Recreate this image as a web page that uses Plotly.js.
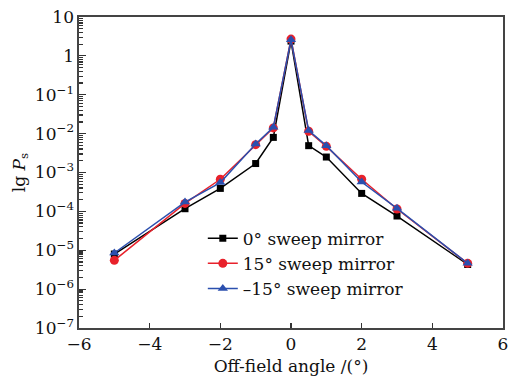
<!DOCTYPE html>
<html>
<head>
<meta charset="utf-8">
<script src="https://cdn.plot.ly/plotly-3.0.1.min.js"></script>
<style>html,body{margin:0;padding:0;background:#fff}#chart{width:509px;height:381px}</style>
</head>
<body>
<div id="chart"></div>
<script>
const angles = [-5, -3, -2, -1, -0.5, 0, 0.5, 1, 2, 3, 5];
const mirror0 = [8.0e-6, 1.17e-4, 3.9e-4, 1.7e-3, 8.0e-3, 2.4, 4.9e-3, 2.5e-3, 2.9e-4, 7.6e-5, 4.3e-6];
const mirror15 = [5.5e-6, 1.6e-4, 6.7e-4, 5.2e-3, 1.4e-2, 2.7, 1.15e-2, 4.7e-3, 6.7e-4, 1.15e-4, 4.6e-6];
const mirrorNeg15 = [8.5e-6, 1.74e-4, 5.5e-4, 5.4e-3, 1.45e-2, 2.6, 1.2e-2, 4.9e-3, 5.7e-4, 1.2e-4, 4.6e-6];
const seriesNames = ["0° sweep mirror", "15° sweep mirror", "–15° sweep mirror"];
const yTickVals = [1e-7, 1e-6, 1e-5, 1e-4, 1e-3, 1e-2, 1e-1, 1, 10];
const yTickText = ["10<sup>−7</sup>", "10<sup>−6</sup>", "10<sup>−5</sup>", "10<sup>−4</sup>", "10<sup>−3</sup>", "10<sup>−2</sup>", "10<sup>−1</sup>", "1", "10"];
const xTickVals = [-6, -4, -2, 0, 2, 4, 6];

const font = "DejaVu Serif, Liberation Serif, serif";
const traces = [
  {x: angles, y: mirror0, name: seriesNames[0], mode: "lines+markers",
   line: {color: "#000000", width: 1.5}, marker: {symbol: "square", size: 7, color: "#000000"}},
  {x: angles, y: mirror15, name: seriesNames[1], mode: "lines+markers",
   line: {color: "#e8212b", width: 1.5}, marker: {symbol: "circle", size: 9, color: "#e8212b"}},
  {x: angles, y: mirrorNeg15, name: seriesNames[2], mode: "lines+markers",
   line: {color: "#2b4fae", width: 1.5}, marker: {symbol: "triangle-up", size: 9, color: "#2b4fae"}}
];
const layout = {
  width: 509, height: 381,
  margin: {l: 79, r: 6, t: 17, b: 53},
  paper_bgcolor: "#fff", plot_bgcolor: "#fff",
  font: {family: font, size: 17, color: "#111"},
  showlegend: true,
  legend: {x: 0.292, y: 0.345, xanchor: "left", yanchor: "top", bgcolor: "rgba(0,0,0,0)",
           font: {family: font, size: 17, color: "#111"}, tracegroupgap: 0, itemwidth: 30},
  xaxis: {
    range: [-6, 6], tickvals: xTickVals, ticks: "inside", ticklen: 5, tickwidth: 1.2,
    tickcolor: "#333", showline: true, linecolor: "#444", linewidth: 1.6, mirror: true,
    showgrid: false, zeroline: false, ticklabeloverflow: "allow",
    title: {text: "Off-field angle /(°)", font: {family: font, size: 17}, standoff: 7}
  },
  yaxis: {
    type: "log", range: [-7, 1], tickvals: yTickVals, ticktext: yTickText,
    ticks: "inside", ticklen: 7, tickwidth: 1.2, tickcolor: "#333",
    minor: {ticks: "inside", ticklen: 4, tickcolor: "#333", dtick: "D1", showgrid: false},
    showline: true, linecolor: "#444", linewidth: 1.6, mirror: true,
    showgrid: false, zeroline: false, ticklabeloverflow: "allow",
    title: {text: "lg <i>P</i><sub>s</sub>", font: {family: font, size: 17}, standoff: 5}
  }
};
Plotly.newPlot("chart", traces, layout, {displayModeBar: false, staticPlot: true});
</script>
</body>
</html>
